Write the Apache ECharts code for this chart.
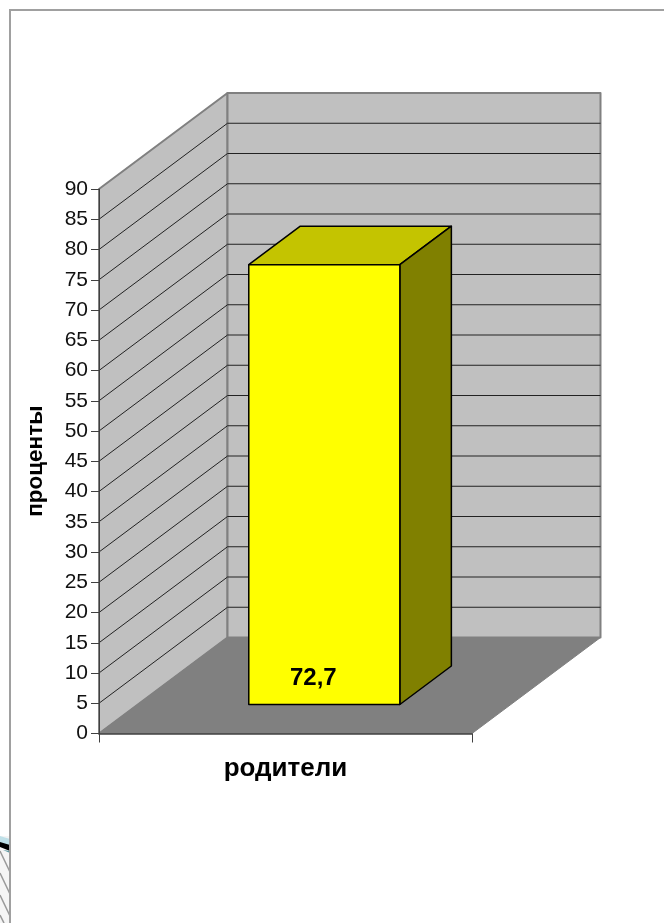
<!DOCTYPE html>
<html>
<head>
<meta charset="utf-8">
<style>
  html, body { margin: 0; padding: 0; background: #fff; }
  #chart { width: 664px; height: 923px; }
</style>
<script src="https://cdn.jsdelivr.net/npm/echarts@6/dist/echarts.min.js"></script>
</head>
<body>
<div id="chart"></div>
<script>
var categories = ['родители'];
var barValues = [72.7];
var yTicks = [5, 10, 15, 20, 25, 30, 35, 40, 45, 50, 55, 60, 65, 70, 75, 80, 85];
var yMin = 0;
var yMax = 90;
var yStep = 5;

// pseudo 3D depth of the box, in pixels
var depthX = 128.5;
var depthY = 96;
var barWidthRatio = 0.405;
var barFrontDepth = 0.302;
var barBackDepth = 0.703;
var labelFont = 'Liberation Sans, Arial, sans-serif';

var chart = echarts.init(document.getElementById('chart'));

function poly(points, fill, stroke, width) {
  return {
    type: 'polygon',
    shape: { points: points },
    style: { fill: fill, stroke: stroke, lineWidth: width, lineJoin: 'round' }
  };
}

function seg(x1, y1, x2, y2, stroke, width) {
  return {
    type: 'line',
    shape: { x1: x1, y1: y1, x2: x2, y2: y2 },
    style: { stroke: stroke, lineWidth: width }
  };
}

function renderWalls(params, api) {
  var size = api.size([1, 0])[0];
  var p0 = api.coord([0, yMin]);
  var p1 = api.coord([0, yMax]);
  var x0 = p0[0] - size / 2;
  var x1 = x0 + size;
  var y0 = p0[1];
  var y1 = p1[1];
  return {
    type: 'group',
    children: [
      poly([[x0, y0], [x0 + depthX, y0 - depthY], [x0 + depthX, y1 - depthY], [x0, y1]], '#C0C0C0', '#808080', 2),
      poly([[x0 + depthX, y0 - depthY], [x1 + depthX, y0 - depthY], [x1 + depthX, y1 - depthY], [x0 + depthX, y1 - depthY]], '#C0C0C0', '#808080', 2),
      poly([[x0, y0], [x1, y0], [x1 + depthX, y0 - depthY], [x0 + depthX, y0 - depthY]], '#808080', '#808080', 1)
    ]
  };
}

function renderGridLine(params, api) {
  var size = api.size([1, 0])[0];
  var p = api.coord([0, api.value(1)]);
  var x0 = p[0] - size / 2;
  var x1 = x0 + size;
  var y = p[1];
  return {
    type: 'group',
    children: [
      seg(x0, y, x0 + depthX, y - depthY, '#222', 1),
      seg(x0 + depthX, y - depthY, x1 + depthX, y - depthY, '#222', 1)
    ]
  };
}

function renderBar(params, api) {
  var size = api.size([1, 0])[0];
  var w = size * barWidthRatio;
  var base = api.coord([api.value(0), 0]);
  var top = api.coord([api.value(0), api.value(1)]);
  var h = base[1] - top[1];
  var fx = base[0] - w / 2 + depthX * barFrontDepth;
  var fy = base[1] - depthY * barFrontDepth;
  var bx = base[0] - w / 2 + depthX * barBackDepth;
  var by = base[1] - depthY * barBackDepth;
  return {
    type: 'group',
    children: [
      poly([[fx, fy - h], [fx + w, fy - h], [bx + w, by - h], [bx, by - h]], '#C4C400', '#000', 1.5),
      poly([[fx + w, fy], [bx + w, by], [bx + w, by - h], [fx + w, fy - h]], '#808000', '#000', 1.5),
      poly([[fx, fy], [fx + w, fy], [fx + w, fy - h], [fx, fy - h]], '#FFFF00', '#000', 1.5),
      {
        type: 'text',
        style: {
          x: fx + w / 2 - 11,
          y: fy - 26,
          text: String(api.value(1)).replace('.', ','),
          fill: '#000',
          font: 'bold 24px ' + labelFont,
          align: 'center',
          verticalAlign: 'middle'
        }
      }
    ]
  };
}

var option = {
  animation: false,
  backgroundColor: '#fff',
  grid: { left: 99, top: 189, width: 373, height: 544.5 },
  graphic: [
    // bit of the slide showing left of the frame
    { type: 'rect', silent: true, shape: { x: 0, y: 836, width: 10, height: 87 }, style: { fill: '#f5f5f5' } },
    { type: 'polygon', silent: true, shape: { points: [[0, 836], [10, 839], [10, 846], [0, 843]] }, style: { fill: '#bfe0e8' } },
    { type: 'polygon', silent: true, shape: { points: [[0, 842], [10, 845], [10, 851], [0, 847]] }, style: { fill: '#000' } },
    { type: 'polygon', silent: true, shape: { points: [[3, 850], [10, 851], [10, 853]] }, style: { fill: '#5f9aa2' } },
    { type: 'line', silent: true, shape: { x1: 0, y1: 851, x2: 10, y2: 872 }, style: { stroke: '#999', lineWidth: 1.5 } },
    { type: 'line', silent: true, shape: { x1: 0, y1: 873, x2: 10, y2: 894 }, style: { stroke: '#999', lineWidth: 1.5 } },
    { type: 'line', silent: true, shape: { x1: 0, y1: 895, x2: 10, y2: 916 }, style: { stroke: '#999', lineWidth: 1.5 } },
    { type: 'line', silent: true, shape: { x1: 0, y1: 915, x2: 4, y2: 923 }, style: { stroke: '#999', lineWidth: 1.5 } },
    // frame of the slide behind the chart
    { type: 'rect', silent: true, shape: { x: 10, y: 10, width: 680, height: 950 }, style: { fill: 'transparent', stroke: '#a0a0a0', lineWidth: 2 } }
  ],
  xAxis: {
    type: 'category',
    data: categories,
    z: 5,
    axisLine: { lineStyle: { color: '#404040', width: 1.5 } },
    axisTick: { show: true, length: 9, lineStyle: { color: '#404040', width: 1 } },
    axisLabel: { margin: 22, fontFamily: labelFont, fontSize: 26, fontWeight: 'bold', color: '#000' }
  },
  yAxis: {
    type: 'value',
    min: yMin,
    max: yMax,
    interval: yStep,
    z: 5,
    name: 'проценты',
    nameLocation: 'middle',
    nameRotate: 90,
    nameGap: 52,
    nameTextStyle: { fontFamily: labelFont, fontSize: 22.5, fontWeight: 'bold', color: '#000' },
    axisLine: { show: true, lineStyle: { color: '#404040', width: 1 } },
    axisTick: { show: true, length: 8, lineStyle: { color: '#404040', width: 1 } },
    axisLabel: { margin: 11, fontFamily: labelFont, fontSize: 21, color: '#111' },
    splitLine: { show: false }
  },
  series: [
    { type: 'custom', z: 1, silent: true, renderItem: renderWalls, data: [[0, yMax]], clip: false },
    { type: 'custom', z: 2, silent: true, renderItem: renderGridLine, data: yTicks.map(function (v) { return [0, v]; }), clip: false },
    { type: 'custom', z: 3, silent: true, renderItem: renderBar, data: barValues.map(function (v, i) { return [i, v]; }), clip: false }
  ]
};

chart.setOption(option);
</script>
</body>
</html>
